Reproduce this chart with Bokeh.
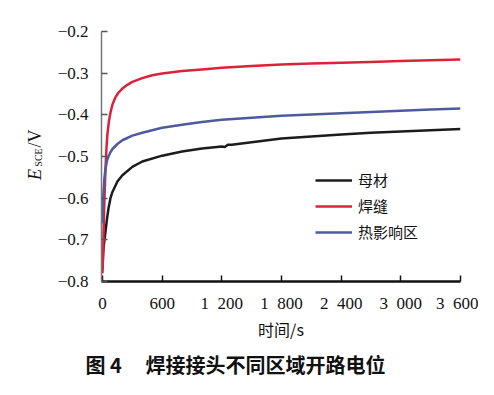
import math
from bokeh.plotting import figure
from bokeh.layouts import row, column
from bokeh.models import (Range1d, FixedTicker, CustomJSTickFormatter, Label,
                          Legend, LegendItem)
from bokeh.embed import file_html
from bokeh.resources import INLINE

# ---- data ----
t_base = [0, 5, 10, 20, 30, 45, 60, 80, 100, 150, 200, 300, 400, 600, 800, 1000,
          1200, 1230, 1260, 1300, 1500, 1800, 2100, 2400, 2700, 3000, 3300, 3600]
e_base = [-0.77, -0.74, -0.72, -0.70, -0.68, -0.65, -0.625, -0.60, -0.585, -0.56,
          -0.545, -0.525, -0.512, -0.498, -0.488, -0.481, -0.476, -0.477, -0.472,
          -0.472, -0.466, -0.457, -0.452, -0.447, -0.443, -0.440, -0.437, -0.434]

t_weld = [0, 5, 10, 15, 20, 30, 40, 50, 65, 80, 100, 130, 160, 200, 250, 300, 400,
          500, 600, 800, 1000, 1200, 1500, 1800, 2100, 2400, 2700, 3000, 3300, 3600]
e_weld = [-0.78, -0.74, -0.69, -0.64, -0.60, -0.53, -0.48, -0.445, -0.415, -0.395,
          -0.375, -0.358, -0.347, -0.337, -0.328, -0.321, -0.312, -0.305, -0.301,
          -0.295, -0.291, -0.287, -0.283, -0.279, -0.277, -0.275, -0.273, -0.271,
          -0.269, -0.267]

t_haz = [0, 5, 10, 20, 30, 45, 60, 80, 100, 150, 200, 300, 400, 600, 800, 1000,
         1200, 1500, 1800, 2100, 2400, 2700, 3000, 3300, 3600]
e_haz = [-0.66, -0.61, -0.585, -0.55, -0.53, -0.51, -0.50, -0.49, -0.482, -0.47,
         -0.461, -0.45, -0.443, -0.431, -0.424, -0.417, -0.412, -0.407, -0.402,
         -0.399, -0.396, -0.393, -0.390, -0.387, -0.385]

series_names = ["母材", "焊缝", "热影响区"]
x_ticks = [0, 600, 1200, 1800, 2400, 3000, 3600]
y_ticks = [-0.8, -0.7, -0.6, -0.5, -0.4, -0.3, -0.2]
x_title = "时间/s"
caption_fig = "图 4"
caption_text = "焊接接头不同区域开路电位"

SERIF = "Liberation Serif"
CJK = "Noto Sans CJK SC"

TOTAL_W, TOTAL_H = 478, 379
LEFT_W = 50          # strip holding the y-axis title
TOP_H = 346          # height of the chart row
BOT_H = TOTAL_H - TOP_H
FRAME_TOP, FRAME_BOTTOM, FRAME_LEFT, FRAME_RIGHT = 31, 281, 101, 460


def blank(w, h):
    f = figure(width=w, height=h, output_backend="svg", toolbar_location=None,
               x_range=Range1d(0, 1), y_range=Range1d(0, 1),
               x_axis_type=None, y_axis_type=None,
               min_border=0, min_border_left=0, min_border_right=0,
               min_border_top=0, min_border_bottom=0)
    f.outline_line_color = None
    f.xgrid.visible = False
    f.ygrid.visible = False
    f.background_fill_color = "white"
    f.border_fill_color = "white"
    return f


def lab(f, ref_bottom, px, py, text, font=CJK, size="16px", style="normal",
        align="center", angle=0.0):
    # px, py: position measured from the top-left of the whole chart;
    # ref_bottom: where the figure's frame bottom lies in the same system
    f.add_layout(Label(x=px, y=ref_bottom - py, x_units="screen",
                       y_units="screen", text=text, text_font=font,
                       text_font_size=size, text_font_style=style,
                       text_align=align, text_baseline="middle", angle=angle,
                       text_color="#111111"))


# ---- main chart ----
p = figure(width=TOTAL_W - LEFT_W, height=TOP_H, output_backend="svg",
           toolbar_location=None,
           x_range=Range1d(-10, 3600), y_range=Range1d(-0.8, -0.2),
           min_border_left=FRAME_LEFT - LEFT_W,
           min_border_right=TOTAL_W - FRAME_RIGHT,
           min_border_top=FRAME_TOP, min_border_bottom=TOP_H - FRAME_BOTTOM)
p.outline_line_color = None
p.xgrid.visible = False
p.ygrid.visible = False
p.background_fill_color = "white"
p.border_fill_color = "white"

r_base = p.line(t_base, e_base, line_color="#1c1c1c", line_width=2.5)
r_weld = p.line(t_weld, e_weld, line_color="#dc2238", line_width=2.5)
r_haz = p.line(t_haz, e_haz, line_color="#4d5aa0", line_width=2.5)

xa = p.xaxis[0]
xa.ticker = FixedTicker(ticks=x_ticks)
xa.formatter = CustomJSTickFormatter(code="""
    if (tick >= 1000) {
        const th = Math.floor(tick / 1000);
        const rest = String(Math.round(tick % 1000)).padStart(3, '0');
        return th + '\u2002' + rest;
    }
    return String(tick);
""")
xa.axis_line_color = "#111111"
xa.axis_line_width = 2.5
xa.major_tick_line_color = "#111111"
xa.major_tick_line_width = 1.5
xa.major_tick_in = 6
xa.major_tick_out = 0
xa.minor_tick_line_color = None
xa.major_label_text_font = SERIF
xa.major_label_text_font_size = "17px"
xa.major_label_text_color = "#111111"
xa.major_label_standoff = 12
xa.axis_label = x_title
xa.axis_label_text_font = CJK
xa.axis_label_text_font_size = "16px"
xa.axis_label_text_font_style = "normal"
xa.axis_label_text_color = "#111111"
xa.axis_label_standoff = 1

ya = p.yaxis[0]
ya.ticker = FixedTicker(ticks=y_ticks)
ya.formatter = CustomJSTickFormatter(code="""
    return (tick < 0 ? '\u2212' : '') + Math.abs(tick).toFixed(1);
""")
ya.axis_line_color = "#777777"
ya.axis_line_width = 1.5
ya.major_tick_line_color = "#555555"
ya.major_tick_line_width = 1.5
ya.major_tick_in = 6
ya.major_tick_out = 0
ya.minor_tick_line_color = None
ya.major_label_text_font = SERIF
ya.major_label_text_font_size = "17px"
ya.major_label_text_color = "#111111"
ya.major_label_standoff = 13

legend = Legend(items=[LegendItem(label=series_names[0], renderers=[r_base]),
                       LegendItem(label=series_names[1], renderers=[r_weld]),
                       LegendItem(label=series_names[2], renderers=[r_haz])],
                location=(214, 39), border_line_color=None,
                background_fill_alpha=0, padding=0, margin=0, spacing=5,
                glyph_width=37, glyph_height=20, label_height=20,
                label_standoff=6, label_text_font=CJK,
                label_text_font_size="15px", label_text_color="#111111")
p.add_layout(legend, "center")

# ---- left strip: y-axis title E_SCE/V (rotated); its frame is aligned
# with the chart's frame by the row layout ----
yl = blank(LEFT_W, TOP_H)
lab(yl, FRAME_BOTTOM, 34, 174, "E", font=SERIF, size="18px", style="italic",
    angle=math.pi / 2)
lab(yl, FRAME_BOTTOM, 38, 157, "SCE", font=SERIF, size="10px",
    angle=math.pi / 2)
lab(yl, FRAME_BOTTOM, 34, 138, "/V", font=SERIF, size="18px",
    angle=math.pi / 2)

# ---- bottom strip: caption ----
bt = blank(TOTAL_W, BOT_H)
lab(bt, TOTAL_H, 85, 364, caption_fig, size="20px", style="bold",
    align="left")
lab(bt, TOTAL_H, 145, 364, caption_text, size="20px", style="bold",
    align="left")

layout = column(row(yl, p, spacing=0), bt, spacing=0)

open("out.html", "w").write(file_html(layout, INLINE))
